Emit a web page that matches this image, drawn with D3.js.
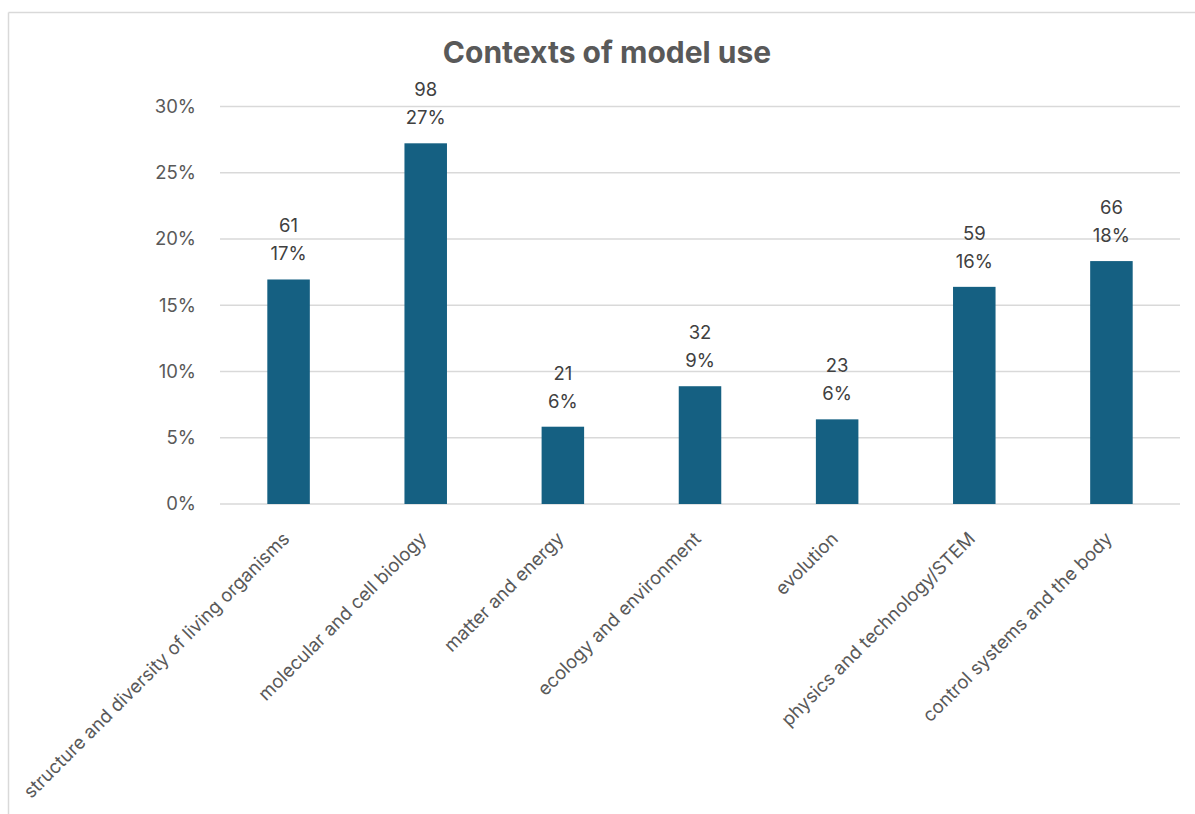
<!DOCTYPE html>
<html><head><meta charset="utf-8">
<script src="https://cdn.jsdelivr.net/npm/d3@7"></script>
<style>body{margin:0;background:#fff;}svg{display:block;}</style>
</head><body>
<script>
const categories = ["structure and diversity of living organisms","molecular and cell biology","matter and energy","ecology and environment","evolution","physics and technology/STEM","control systems and the body"];
const counts = [61, 98, 21, 32, 23, 59, 66];
const yTicks = [0, 0.05, 0.10, 0.15, 0.20, 0.25, 0.30];
const title = "Contexts of model use";

const W = 1195, H = 814;
const total = d3.sum(counts);
const shares = counts.map(c => c / total);

const svg = d3.select("body").append("svg").attr("width", W).attr("height", H);
const font = "Inter, 'Open Sans', sans-serif";
const grey = "#595959";

// chart border (top and left visible)
svg.append("line").attr("x1", 8.5).attr("x2", W).attr("y1", 12.5).attr("y2", 12.5).attr("stroke", "#d9d9d9").attr("stroke-width", 1.5);
svg.append("line").attr("x1", 8.5).attr("x2", 8.5).attr("y1", 12.5).attr("y2", H).attr("stroke", "#d9d9d9").attr("stroke-width", 1.5);

const x = d3.scaleBand().domain(categories).range([220, 1180]).paddingInner(0.69).paddingOuter(0.345);
const y = d3.scaleLinear().domain([0, 0.30]).range([504, 106.5]);

svg.append("text").attr("x", 607).attr("y", 63).attr("text-anchor", "middle")
  .attr("font-family", font).attr("font-weight", 700).attr("font-size", 30).attr("fill", grey).text(title);

// gridlines
svg.append("g").selectAll("line").data(yTicks).join("line")
  .attr("x1", 220).attr("x2", 1180).attr("y1", d => y(d)).attr("y2", d => y(d))
  .attr("stroke", "#d9d9d9").attr("stroke-width", 1.5);

// y axis
const yAxis = d3.axisLeft(y).tickValues(yTicks).tickFormat(d3.format(".0%")).tickSize(0).tickPadding(24);
const yg = svg.append("g").attr("transform", "translate(220,0)").call(yAxis);
yg.select(".domain").remove();
yg.selectAll("text").attr("font-family", font).attr("font-size", 18.5).attr("fill", grey);

// bars
svg.append("g").selectAll("rect").data(categories).join("rect")
  .attr("x", d => x(d)).attr("width", x.bandwidth())
  .attr("y", (d, i) => y(shares[i])).attr("height", (d, i) => y(0) - y(shares[i]))
  .attr("fill", "#156082");

// data labels
const lg = svg.append("g").attr("font-family", font).attr("font-size", 18.5).attr("fill", "#404040").attr("text-anchor", "middle");
categories.forEach((c, i) => {
  const cx = x(c) + x.bandwidth() / 2;
  const top = y(shares[i]);
  lg.append("text").attr("x", cx).attr("y", top - 19).text(d3.format(".0%")(shares[i]));
  lg.append("text").attr("x", cx).attr("y", top - 47).text(counts[i]);
});

// x axis labels
const xAxis = d3.axisBottom(x).tickSize(0).tickPadding(0);
const xg = svg.append("g").attr("transform", "translate(0,504)").call(xAxis);
xg.select(".domain").remove();
xg.selectAll("text").attr("font-family", font).attr("font-size", 18.5).attr("fill", grey)
  .attr("text-anchor", "end").attr("dy", null)
  .attr("transform", "translate(2,36) rotate(-45)");
</script>
</body></html>
